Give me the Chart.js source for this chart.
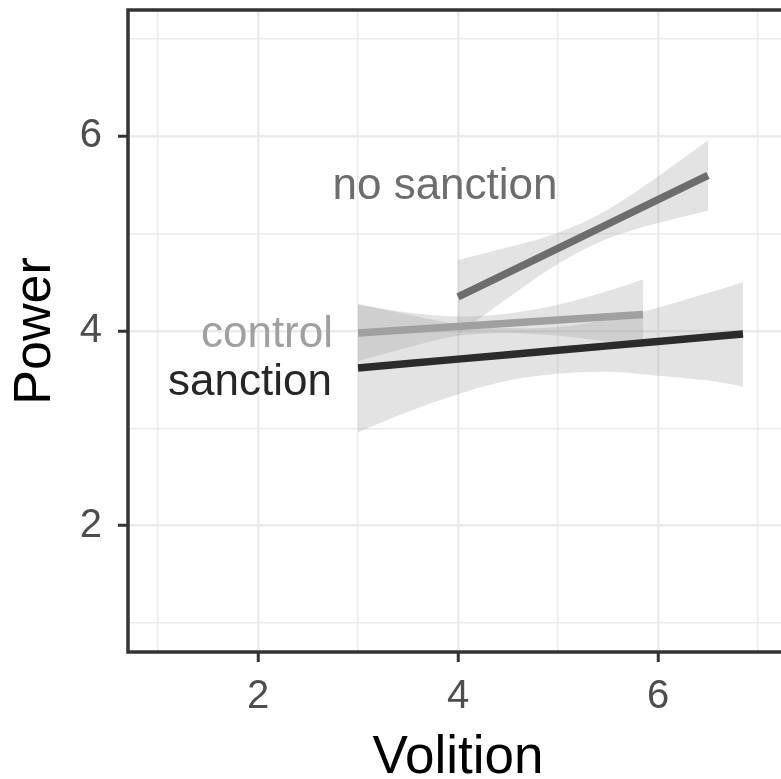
<!DOCTYPE html>
<html>
<head>
<meta charset="utf-8">
<script src="https://cdn.jsdelivr.net/npm/chart.js@4.4.1/dist/chart.umd.min.js"></script>
<style>
  html, body { margin: 0; padding: 0; background: #fff; overflow: hidden; }
  #wrap { position: absolute; left: 0; top: 0; width: 800px; height: 790px; }
</style>
</head>
<body>
<div id="wrap"><canvas id="chart" width="800" height="790"></canvas></div>
<script>
// ticks (odd = minor grid, even = labelled)
const xTicks = [1, 2, 3, 4, 5, 6, 7];
const yTicks = [1, 2, 3, 4, 5, 6, 7];

// fitted lines + confidence band
const noSanctionX    = [4.0, 4.5, 5.0, 5.5, 6.0, 6.5];
const noSanctionFit  = [4.35, 4.60, 4.85, 5.10, 5.35, 5.60];
const noSanctionLow  = [3.97, 4.34, 4.69, 4.95, 5.11, 5.24];
const noSanctionHigh = [4.73, 4.86, 5.01, 5.25, 5.59, 5.96];

const controlX    = [3.0, 3.5, 4.0, 4.5, 5.0, 5.5, 5.85];
const controlFit  = [3.98, 4.013, 4.047, 4.08, 4.113, 4.147, 4.17];
const controlLow  = [3.69, 3.83, 3.95, 3.98, 3.95, 3.89, 3.83];
const controlHigh = [4.27, 4.19, 4.15, 4.18, 4.27, 4.41, 4.53];

const sanctionX    = [3.0, 3.5, 4.0, 4.5, 5.0, 5.5, 6.0, 6.5, 6.85];
const sanctionFit  = [3.62, 3.665, 3.711, 3.756, 3.802, 3.847, 3.893, 3.938, 3.97];
const sanctionLow  = [2.96, 3.17, 3.35, 3.49, 3.56, 3.58, 3.54, 3.49, 3.43];
const sanctionHigh = [4.28, 4.17, 4.07, 4.03, 4.04, 4.12, 4.24, 4.39, 4.50];

// direct labels
const labelText = ['no sanction', 'control', 'sanction'];
const labelX = [3.87, 2.75, 2.74];
const labelY = [5.48, 3.96, 3.47];

const groups = [
  { name: 'no sanction', x: noSanctionX, fit: noSanctionFit, lo: noSanctionLow, hi: noSanctionHigh, color: '#6d6d6d' },
  { name: 'control', x: controlX, fit: controlFit, lo: controlLow, hi: controlHigh, color: '#a0a0a0' },
  { name: 'sanction', x: sanctionX, fit: sanctionFit, lo: sanctionLow, hi: sanctionHigh, color: '#2b2b2b' }
];
const labelColors = ['#6d6d6d', '#a0a0a0', '#262626'];
const labelAlign = ['center', 'right', 'right'];
const FONT = '"Liberation Sans", Arial, sans-serif';

const pts = (xs, ys) => xs.map((x, i) => ({ x: x, y: ys[i] }));

const datasets = [];
// lines first => drawn on top
groups.forEach(g => {
  datasets.push({
    label: g.name, data: pts(g.x, g.fit), borderColor: g.color, borderWidth: 7.5,
    borderCapStyle: 'butt', pointRadius: 0, fill: false, order: 0
  });
});
groups.forEach(g => {
  datasets.push({
    label: g.name + ' lo', data: pts(g.x, g.lo), borderWidth: 0, borderColor: 'rgba(0,0,0,0)',
    pointRadius: 0, fill: false, tension: 0.35, order: 1
  });
  datasets.push({
    label: g.name + ' hi', data: pts(g.x, g.hi), borderWidth: 0, borderColor: 'rgba(0,0,0,0)',
    pointRadius: 0, fill: '-1', backgroundColor: 'rgba(153,153,153,0.28)', tension: 0.35, order: 1
  });
});

const isMajor = v => v % 2 === 0;

const panelDeco = {
  id: 'panelDeco',
  afterDatasetsDraw(chart) {
    const { ctx, chartArea: a, scales } = chart;
    ctx.save();
    ctx.font = '44px ' + FONT;
    ctx.textBaseline = 'middle';
    labelText.forEach((t, i) => {
      ctx.fillStyle = labelColors[i];
      ctx.textAlign = labelAlign[i];
      ctx.fillText(t, scales.x.getPixelForValue(labelX[i]), scales.y.getPixelForValue(labelY[i]));
    });
    ctx.strokeStyle = '#333';
    ctx.lineWidth = 3.5;
    ctx.strokeRect(a.left, a.top, a.right - a.left, a.bottom - a.top);
    ctx.restore();
  }
};

new Chart(document.getElementById('chart'), {
  type: 'line',
  data: { datasets: datasets },
  options: {
    responsive: false,
    animation: false,
    devicePixelRatio: 1,
    layout: { padding: { top: 10, right: 12, left: 0, bottom: 0 } },
    plugins: { legend: { display: false }, tooltip: { enabled: false } },
    scales: {
      x: {
        type: 'linear', min: 0.7, max: 7.3,
        afterBuildTicks: s => { s.ticks = xTicks.map(v => ({ value: v })); },
        afterFit: s => { s.height = 138; s.paddingLeft = 0; s.paddingRight = 0; },
        ticks: {
          callback: v => isMajor(v) ? String(v) : '',
          font: { family: FONT, size: 40 },
          color: '#4d4d4d', padding: 11, maxRotation: 0
        },
        grid: {
          color: '#ebebeb',
          lineWidth: c => isMajor(c.tick.value) ? 2.5 : 1.5,
          tickColor: c => isMajor(c.tick.value) ? '#333' : 'rgba(0,0,0,0)',
          tickWidth: 3, tickLength: 10
        },
        border: { display: false },
        title: {
          display: true, text: 'Volition', color: '#000',
          font: { family: FONT, size: 53 },
          padding: { top: 2, bottom: 0 }
        }
      },
      y: {
        type: 'linear', min: 0.7, max: 7.3,
        afterBuildTicks: s => { s.ticks = yTicks.map(v => ({ value: v })); },
        afterFit: s => { s.width = 128; s.paddingTop = 0; s.paddingBottom = 0; },
        ticks: {
          callback: v => isMajor(v) ? String(v) : '',
          font: { family: FONT, size: 40 },
          color: '#4d4d4d', padding: 16
        },
        grid: {
          color: '#ebebeb',
          lineWidth: c => isMajor(c.tick.value) ? 2.5 : 1.5,
          tickColor: c => isMajor(c.tick.value) ? '#333' : 'rgba(0,0,0,0)',
          tickWidth: 3, tickLength: 10
        },
        border: { display: false },
        title: {
          display: true, text: 'Power', color: '#000',
          font: { family: FONT, size: 52 },
          padding: { top: 4, bottom: 0 }
        }
      }
    }
  },
  plugins: [panelDeco]
});
</script>
</body>
</html>
